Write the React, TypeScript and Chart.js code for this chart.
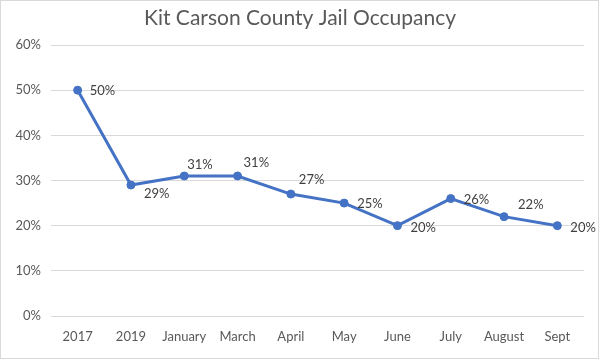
import React, { useEffect, useRef } from "react";
import { Chart, registerables } from "chart.js";

Chart.register(...registerables);

const categories = ["2017", "2019", "January", "March", "April", "May", "June", "July", "August", "Sept"];
const occupancy = [50, 29, 31, 31, 27, 25, 20, 26, 22, 20];
const yTicks = [0, 10, 20, 30, 40, 50, 60];
const chartTitle = "Kit Carson County Jail Occupancy";

// label offsets from the point (dx to left edge of text, dy to text middle)
const labelOffsets: [number, number][] = [
  [12, 1], [13, 9], [3, -11], [6, -13], [8, -14],
  [13, 1], [13, 2], [13, 1], [14, -12], [13, 2],
];

const FONT = "Lato, 'Open Sans', sans-serif";

export default function App() {
  const ref = useRef<HTMLCanvasElement | null>(null);

  useEffect(() => {
    document.body.style.margin = "0";
    const canvas = ref.current;
    if (!canvas) return;

    const bgPlugin = {
      id: "bg",
      beforeDraw(chart: any) {
        const { ctx, width, height } = chart;
        ctx.save();
        ctx.fillStyle = "#ffffff";
        ctx.fillRect(0, 0, width, height);
        ctx.strokeStyle = "#d9d9d9";
        ctx.lineWidth = 1;
        ctx.strokeRect(0.5, 0.5, width - 2, height - 2);
        ctx.restore();
      },
      afterDraw(chart: any) {
        const { ctx, width } = chart;
        ctx.save();
        ctx.font = `21px ${FONT}`;
        ctx.fillStyle = "#595959";
        ctx.textAlign = "center";
        ctx.textBaseline = "middle";
        ctx.fillText(chartTitle, width / 2, 18);
        ctx.restore();
      },
    };

    const labelPlugin = {
      id: "pointLabels",
      afterDatasetsDraw(chart: any) {
        const { ctx } = chart;
        const meta = chart.getDatasetMeta(0);
        ctx.save();
        ctx.font = `13px ${FONT}`;
        ctx.fillStyle = "#404040";
        ctx.textAlign = "left";
        ctx.textBaseline = "middle";
        meta.data.forEach((pt: any, i: number) => {
          const v = chart.data.datasets[0].data[i];
          const [dx, dy] = labelOffsets[i] || [12, 0];
          ctx.fillText(`${v}%`, pt.x + dx, pt.y + dy);
        });
        ctx.restore();
      },
    };

    const chart = new Chart(canvas, {
      type: "line",
      data: {
        labels: categories,
        datasets: [
          {
            data: occupancy,
            borderColor: "#4472C4",
            backgroundColor: "#4472C4",
            borderWidth: 3,
            pointRadius: 4,
            pointBorderWidth: 1,
            pointBackgroundColor: "#4472C4",
            pointBorderColor: "#4472C4",
            tension: 0,
          },
        ],
      },
      options: {
        responsive: false,
        animation: false,
        layout: { padding: { left: 0, right: 16, top: 45, bottom: 0 } },
        plugins: {
          legend: { display: false },
          tooltip: { enabled: false },
          title: { display: false },
        },
        scales: {
          x: {
            offset: true,
            grid: { display: false, drawTicks: false },
            border: { display: false },
            ticks: {
              color: "#595959",
              font: { family: FONT, size: 13 },
              padding: 13,
              maxRotation: 0,
              autoSkip: false,
            },
            afterFit(scale: any) {
              scale.height = 44;
            },
          },
          y: {
            min: 0,
            max: 60,
            afterBuildTicks(scale: any) {
              scale.ticks = yTicks.map((v) => ({ value: v }));
            },
            grid: { color: "#d9d9d9", drawTicks: false, lineWidth: 1 },
            border: { display: false },
            ticks: {
              color: "#595959",
              font: { family: FONT, size: 13 },
              padding: 10,
              callback: (v: any) => `${v}%`,
            },
            afterFit(scale: any) {
              scale.width = 51;
            },
          },
        },
      },
      plugins: [bgPlugin, labelPlugin],
    });

    return () => chart.destroy();
  }, []);

  return (
    <div style={{ position: "fixed", left: 0, top: 0, width: 600, height: 360 }}>
      <canvas ref={ref} width={600} height={360} style={{ display: "block", width: 600, height: 360 }} />
    </div>
  );
}
